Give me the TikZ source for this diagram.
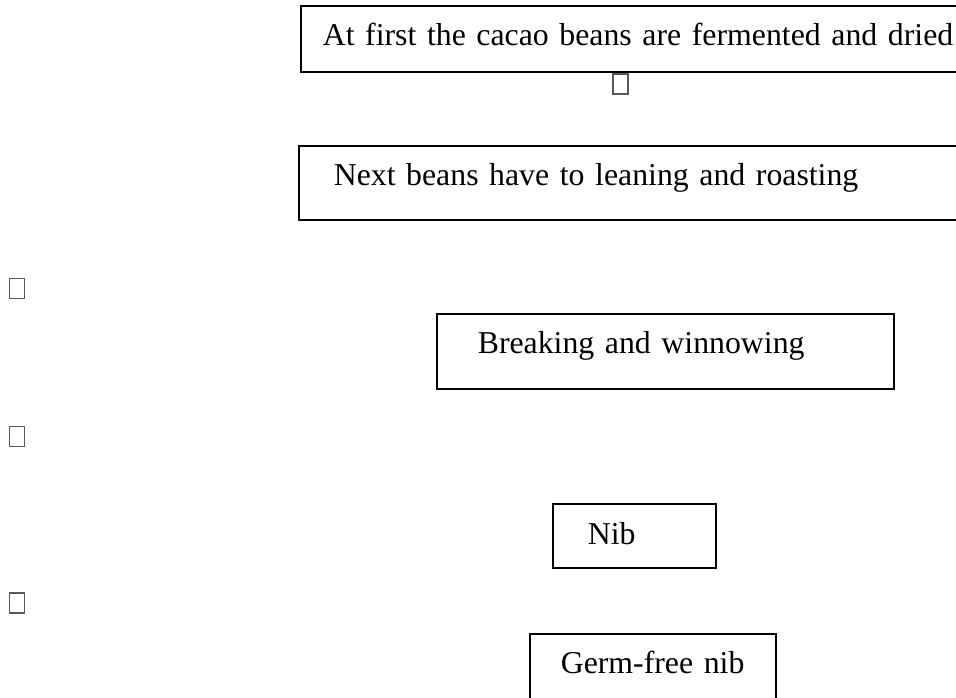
\documentclass[tikz,border=0pt]{standalone}
\usepackage{fontspec}
\setmainfont{Liberation Serif}
\usepackage{tikz}
\usetikzlibrary{positioning}

\tikzset{
  stepbox/.style={draw, line width=1.6pt, anchor=north west, inner ysep=0pt, align=left,
    font=\fontsize{31.8}{38}\selectfont},
  glyphbox/.style={draw=gray!70!black, line width=1.3pt, minimum width=15pt,
    minimum height=20pt, inner sep=0pt}
}

\begin{document}
\begin{tikzpicture}[x=1pt, y=-1pt]
    \useasboundingbox (0,0) rectangle (956,697);
    \clip (0,0) rectangle (956,697);

    % process steps
    \node[stepbox, inner xsep=22pt, text width=656pt, text height=40pt, text depth=26pt] (ferment) at (300,5) {At first the cacao beans are fermented and dried};
    \node[stepbox, inner xsep=35pt, text width=632pt, text height=40pt, text depth=34pt] (roast) at (298,145) {Next beans have to leaning and roasting};
    \node[stepbox, inner xsep=41pt, text width=375pt, text height=40pt, text depth=35pt] (winnow) at (436,313) {Breaking and winnowing};
    \node[stepbox, inner xsep=35pt, text width=93pt, text height=41pt, text depth=23pt] (nib) at (552,503) {Nib};
    \node[stepbox, inner xsep=31pt, text width=184pt, text height=40pt, text depth=50pt] (germfree) at (529,633) {Germ-free nib};

    % missing glyph boxes
    \node[glyphbox] (sq0) at (620.5,84) {};
    \foreach \y/\n in {288.5/1, 436.5/2, 603/3} {
        \node[glyphbox] (sq\n) at (17,\y) {};
    }
\end{tikzpicture}
\end{document}
